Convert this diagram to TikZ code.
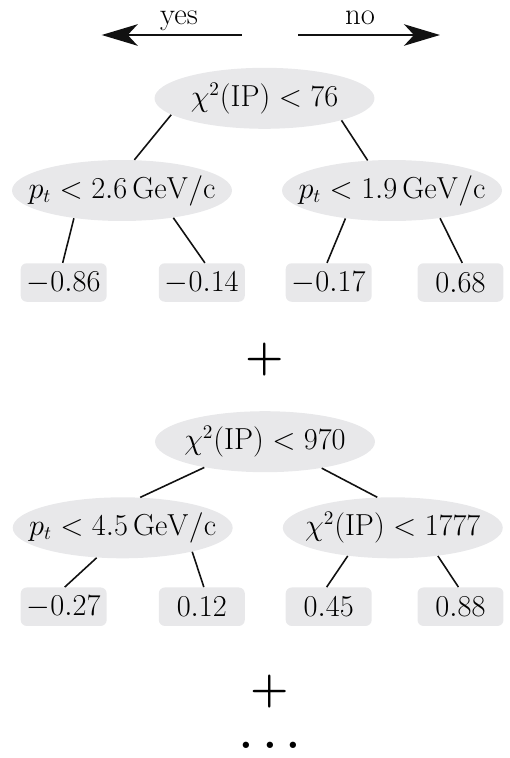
\documentclass[tikz,border=0pt]{standalone}
\usepackage{tikz}
\usepackage{amsmath}
\usetikzlibrary{arrows.meta,shapes.geometric}
\definecolor{Cut}{HTML}{E8E8EA}
\definecolor{Ink}{HTML}{111111}
\newcommand{\cuttxt}[1]{\makebox[0pt]{#1}}

\begin{document}
\begin{tikzpicture}[x=0.02cm,y=-0.02cm,
    split/.style={ellipse,fill=Cut,inner sep=0pt,minimum width=4.4cm,minimum height=1.22cm,
      font=\fontsize{16.2}{19}\selectfont},
    leaf/.style={rectangle,rounded corners=0.12cm,fill=Cut,inner sep=0pt,minimum width=1.72cm,
      minimum height=0.77cm,font=\fontsize{16.2}{19}\selectfont},
    edge/.style={Ink,line width=0.9pt},
    way/.style={Ink,line width=1.1pt,-{Stealth[length=0.72cm,width=0.43cm,inset=0.2cm]}},
    wayname/.style={font=\fontsize{17.5}{20}\selectfont,anchor=base,inner sep=0pt},
    big/.style={font=\fontsize{25}{29}\selectfont\bfseries}]
  \useasboundingbox (0,0) rectangle (510,758);
  % yes / no
  \coordinate (yesS) at (241.7,35);
  \coordinate (yesE) at (101.7,35);
  \coordinate (noS) at (298.3,35);
  \coordinate (noE) at (440,35);
  \draw[way] (yesS) -- (yesE);
  \draw[way] (noS) -- (noE);
  \node[wayname] (yes) at (179,24) {yes};
  \node[wayname] (no) at (360,24) {no};
  % first tree
  \node[split] (root1) at (264.5,98.3) {\cuttxt{$\chi^2(\mathrm{IP}) < 76$}};
  \node[split] (lt1) at (122,190.5) {\cuttxt{$p_t < 2.6\,\mathrm{GeV/c}$}};
  \node[split] (rt1) at (392,190.5) {\cuttxt{$p_t < 1.9\,\mathrm{GeV/c}$}};
  \foreach \i/\x/\v in {1/63.7/-0.86, 2/201.8/-0.14, 3/328.7/-0.17, 4/460.5/0.68}
    \node[leaf] (l1\i) at (\x,282.5) {$\v$};
  \draw[edge] (root1.190) -- (lt1.68);
  \draw[edge] (root1.344) -- (rt1.129);
  \draw[edge] (lt1.210) -- (l11.93);
  \draw[edge] (lt1.332) -- (l12.81);
  \draw[edge] (rt1.211) -- (l13.95);
  \draw[edge] (rt1.330) -- (l14.85);
  \node[big] (plus1) at (265,359.5) {+};
  % second tree
  \node[split] (root2) at (265,441.7) {\cuttxt{$\chi^2(\mathrm{IP}) < 970$}};
  \node[split] (lt2) at (122.7,527.8) {\cuttxt{$p_t < 4.5\,\mathrm{GeV/c}$}};
  \node[split] (rt2) at (392.8,527.8) {\cuttxt{$\chi^2(\mathrm{IP}) < 1777$}};
  \foreach \i/\x/\v in {1/63.7/-0.27, 2/201.8/0.12, 3/328.7/0.45, 4/460.5/0.88}
    \node[leaf] (l2\i) at (\x,606.7) {$\v$};
  \draw[edge] (root2.203) -- (lt2.60);
  \draw[edge] (root2.335) -- (rt2.117);
  \draw[edge] (lt2.229) -- (l21.87);
  \draw[edge] (lt2.341) -- (l22.84);
  \draw[edge] (rt2.212) -- (l23.96);
  \draw[edge] (rt2.328) -- (l24.96);
  \node[big] (plus2) at (270,692) {+};
  \node[big,anchor=base,inner sep=0pt] (more) at (270,748) {.\hspace{0.22em}.\hspace{0.22em}.};
\end{tikzpicture}
\end{document}
